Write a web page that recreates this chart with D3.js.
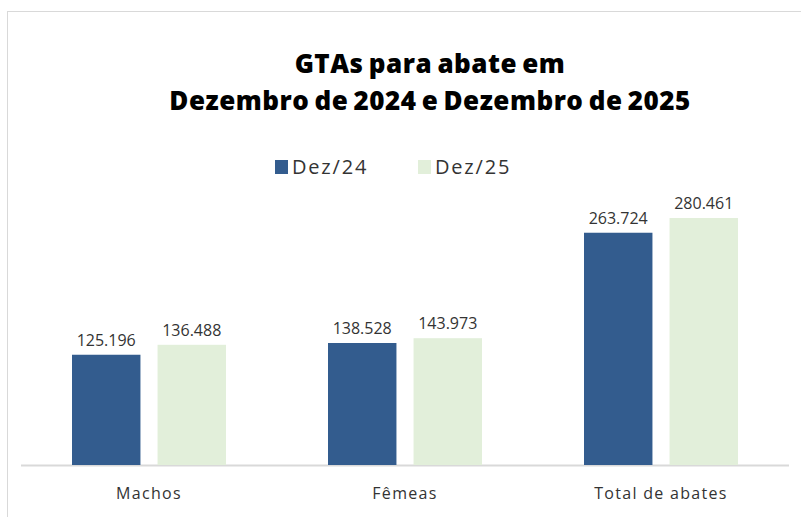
<!DOCTYPE html>
<html>
<head>
<meta charset="utf-8">
<script src="https://cdn.jsdelivr.net/npm/d3@7"></script>
<style>
  body { margin: 0; background: #fff; }
  svg { display: block; font-family: "Open Sans", sans-serif; }
</style>
</head>
<body>
<svg id="chart"></svg>
<script>
const categories = ["Machos", "Fêmeas", "Total de abates"];
const seriesNames = ["Dez/24", "Dez/25"];
const dez24 = [125196, 138528, 263724];
const dez25 = [136488, 143973, 280461];
const titleLines = ["GTAs para abate em", "Dezembro de 2024 e Dezembro de 2025"];

const colors = { "Dez/24": "#335c8e", "Dez/25": "#e2efda" };

const width = 801, height = 517;
const svg = d3.select("#chart").attr("width", width).attr("height", height);

// outer frame
svg.append("rect")
  .attr("x", 7.5).attr("y", 11.5)
  .attr("width", 800).attr("height", 520)
  .attr("fill", "#fff").attr("stroke", "#d9d9d9");

// scales
const x0 = d3.scaleBand().domain(categories).range([21, 789]).padding(0);
const x1 = d3.scaleBand().domain(seriesNames).range([51, 205]).paddingInner(0.2);
const y = d3.scaleLinear().domain([0, 280461]).range([465, 218]);

const fmt = v => d3.format(",")(v).replace(/,/g, ".");

const data = categories.map((c, i) => ({
  category: c,
  values: [
    { key: "Dez/24", value: dez24[i] },
    { key: "Dez/25", value: dez25[i] },
  ],
}));

// title
svg.append("g").selectAll("text")
  .data(titleLines)
  .join("text")
  .attr("x", 430)
  .attr("y", (d, i) => 73 + i * 37)
  .attr("text-anchor", "middle")
  .style("font-family", "'Open Sans', sans-serif")
  .style("font-weight", 800)
  .style("font-size", "26px")
  .style("letter-spacing", "0.5px")
  .style("word-spacing", "-2px")
  .attr("fill", "#000")
  .text(d => d);

// legend
const legend = svg.append("g").selectAll("g")
  .data(seriesNames)
  .join("g")
  .attr("transform", (d, i) => `translate(${275 + i * 143},160)`);
legend.append("rect").attr("width", 13).attr("height", 14).attr("fill", d => colors[d]);
legend.append("text")
  .attr("x", 17).attr("y", 14)
  .style("font-size", "20px")
  .style("letter-spacing", "1.8px")
  .attr("fill", "#333")
  .text(d => d);

// axis baseline
svg.append("line")
  .attr("x1", 21).attr("x2", 789)
  .attr("y1", y(0) + 0.5).attr("y2", y(0) + 0.5)
  .attr("stroke", "#d9d9d9").attr("stroke-width", 2);

// bars
const groups = svg.append("g").selectAll("g")
  .data(data)
  .join("g")
  .attr("transform", d => `translate(${x0(d.category)},0)`);

groups.selectAll("rect")
  .data(d => d.values)
  .join("rect")
  .attr("x", d => x1(d.key))
  .attr("y", d => y(d.value))
  .attr("width", x1.bandwidth())
  .attr("height", d => y(0) - y(d.value))
  .attr("fill", d => colors[d.key]);

groups.selectAll("text.val")
  .data(d => d.values)
  .join("text")
  .attr("class", "val")
  .attr("x", d => x1(d.key) + x1.bandwidth() / 2)
  .attr("y", d => y(d.value) - 9)
  .attr("text-anchor", "middle")
  .style("font-size", "16px")
  .attr("fill", "#333")
  .text(d => fmt(d.value));

// category labels
svg.append("g").selectAll("text")
  .data(categories)
  .join("text")
  .attr("x", d => x0(d) + x0.bandwidth() / 2)
  .attr("y", 499)
  .attr("text-anchor", "middle")
  .style("font-size", "16px")
  .style("letter-spacing", "1.3px")
  .attr("fill", "#333")
  .text(d => d);
</script>
</body>
</html>
